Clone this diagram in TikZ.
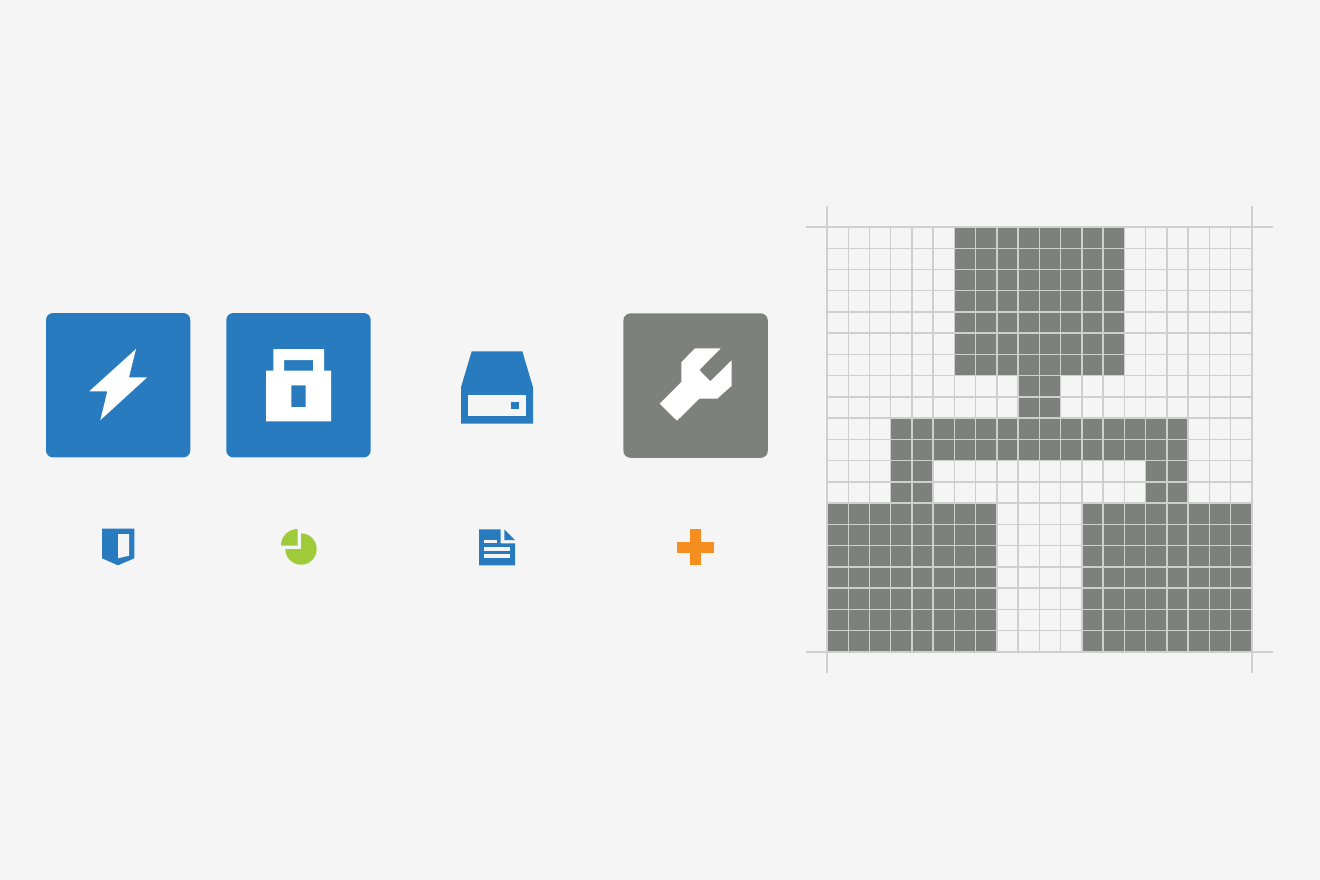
\documentclass[tikz,border=0pt]{standalone}
\usepackage{xcolor}
\definecolor{pagegrey}{HTML}{F5F5F5}
\definecolor{iconblue}{HTML}{287BBF}
\definecolor{icongrey}{HTML}{7E807E}
\definecolor{icongreen}{HTML}{9FCB3B}
\definecolor{iconorange}{HTML}{F68D1F}
\definecolor{gridgrey}{HTML}{CFCFCF}
\tikzset{
  tile/.style={rounded corners=0.14cm},
  glyph/.style={fill=white},
  hole/.style={fill=pagegrey},
  pixel/.style={fill=icongrey},
  gridline/.style={draw=gridgrey, line width=0.03cm}
}
\begin{document}
\begin{tikzpicture}[x=0.02cm,y=-0.02cm]

        % Page
        \fill [pagegrey] (0,0) rectangle (1320,880);

        % Tiles
        \fill [iconblue, tile] (46,313) rectangle (190.3,457.4);
        \fill [iconblue, tile] (226.3,313) rectangle (370.7,457.4);
        \fill [icongrey, tile] (623.4,313.4) rectangle (767.8,457.8);

        % Bolt
        \fill [glyph] (136,349) -- (129,377.3) -- (147.2,377.3) -- (100.3,420.2) -- (107.3,391.3) -- (89.2,391.3) -- cycle;

        % Lock
        \fill [glyph, even odd rule] (266,370.7) -- (273.3,370.7) -- (273.3,349) -- (324,349) -- (324,370.7) -- (331,370.7) -- (331,421.4) -- (266,421.4) -- cycle
            (284,360) rectangle (313,370.7)
            (291.3,385.3) rectangle (305.7,407);

        % Drive
        \fill [iconblue] (471.7,351.3) -- (522.3,351.3) -- (533,387.3) -- (533,423.7) -- (461,423.7) -- (461,387.3) -- cycle;
        \fill [hole] (468.3,394.7) rectangle (526,416.3);
        \fill [iconblue] (511.3,401.7) rectangle (518.7,409);

        % Wrench
        \fill [glyph] (695,348.3) -- (720.7,348.3) -- (699.3,370) -- (710.3,381.3) -- (731.7,360.3) -- (731.7,385.7) -- (717.3,398.7) -- (699.3,398.7) -- (677,420.7) -- (659.7,403.7) -- (681.3,382) -- (681.3,362.3) -- cycle;

        % Shield
        \fill [iconblue] (102,528.7) -- (134.3,528.7) -- (134.3,558.3) -- (118,565.3) -- (102,558.3) -- cycle;
        \fill [hole] (118,534) -- (129,534) -- (129,555.7) -- (118,558.3) -- cycle;

        % Pie
        \fill [icongreen] (301,533.3) arc [start angle=90, end angle=-180, radius=0.314cm] -- (301,549) -- cycle;
        \fill [icongreen] (297.5,529) arc [start angle=90, end angle=180, radius=0.33cm] -- (297.5,545.5) -- cycle;

        % Document
        \fill [iconblue] (479,529.3) -- (500.7,529.3) -- (500.7,543.3) -- (515,543.3) -- (515,565.3) -- (479,565.3) -- cycle;
        \fill [iconblue] (504.3,529.3) -- (515,540) -- (504.3,540) -- cycle;
        \fill [hole] (484.3,540) rectangle (497,543.3);
        \fill [hole] (484.3,547.3) rectangle (509.7,551);
        \fill [hole] (484.3,554.3) rectangle (509.7,558);

        % Plus
        \fill [iconorange] (690,529.3) rectangle (701,565.3);
        \fill [iconorange] (677.3,542) rectangle (713.7,552.7);

        % Pixel grid
        \begin{scope}[shift={(827,227)},x=0.425cm,y=-0.425cm]
            \fill [pixel] (6,0) rectangle (14,7);
            \fill [pixel] (9,7) rectangle (11,9);
            \fill [pixel] (3,9) rectangle (17,11);
            \fill [pixel] (3,11) rectangle (5,13);
            \fill [pixel] (15,11) rectangle (17,13);
            \fill [pixel] (0,13) rectangle (8,20);
            \fill [pixel] (12,13) rectangle (20,20);
            \foreach \i in {1,...,19} {
                \draw [gridline] (\i,0) -- (\i,20);
                \draw [gridline] (0,\i) -- (20,\i);
            }
            % Overshooting frame lines
            \foreach \i in {0,20} {
                \draw [gridline] (\i,-1) -- (\i,21);
                \draw [gridline] (-1,\i) -- (21,\i);
            }
        \end{scope}
    \end{tikzpicture}
\end{document}
